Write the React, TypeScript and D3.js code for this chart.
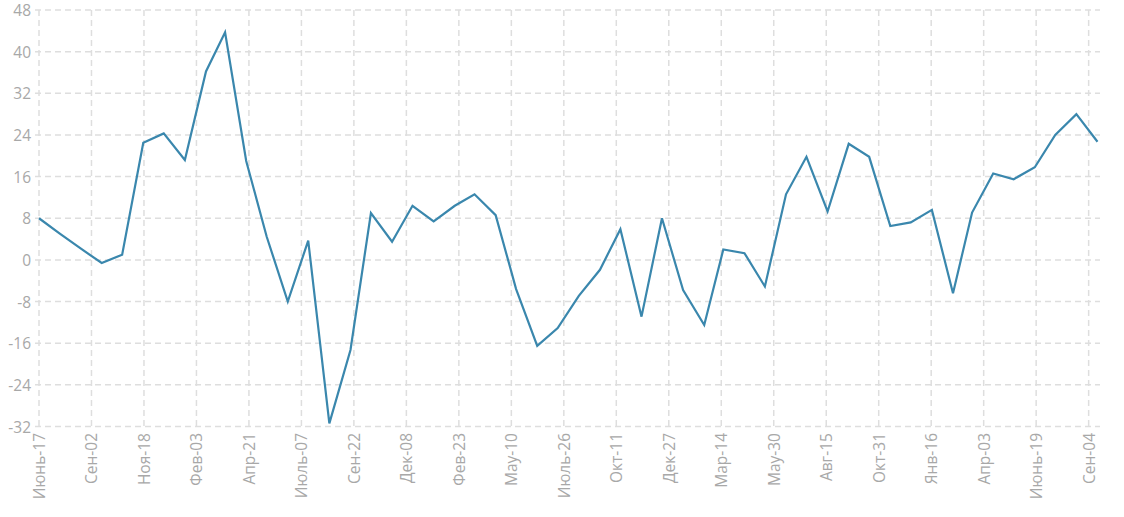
import React from "react";
import * as d3 from "d3";

const START = new Date(2018, 5, 17);
const values: number[] = [
  8.0, 5.1, 2.2, -0.6, 1.0, 22.5, 24.3, 19.2, 36.2, 43.7,
  19.0, 4.5, -8.0, 3.7, -31.4, -17.3, 9.0, 3.5, 10.4, 7.4,
  10.4, 12.6, 8.6, -5.6, -16.5, -13.1, -6.9, -1.9, 5.9, -10.9,
  8.0, -5.8, -12.5, 2.0, 1.3, -5.1, 12.6, 19.8, 9.3, 22.3,
  19.8, 6.5, 7.2, 9.6, -6.4, 9.1, 16.6, 15.5, 17.8, 24.0,
  28.0, 22.7,
];
const dates: Date[] = values.map((_, i) => d3.timeMonth.offset(START, i));
const yTicks: number[] = [48, 40, 32, 24, 16, 8, 0, -8, -16, -24, -32];
const monthNames: string[] = ["Янв", "Фев", "Мар", "Апр", "Мау", "Июнь", "Июль", "Авг", "Сен", "Окт", "Ноя", "Дек"];
const tickStepDays = 77;

const W = 1124;
const H = 517;
const FONT = "'Open Sans', sans-serif";

export default function App() {
  const x = d3.scaleTime().domain([dates[0], dates[dates.length - 1]]).range([39, 1097.5]);
  const y = d3.scaleLinear().domain([-32, 48]).range([426.5, 10]);
  const xTicks = d3
    .range(0, 30)
    .map((k) => d3.timeDay.offset(START, k * tickStepDays))
    .filter((d) => d <= dates[dates.length - 1]);
  const fmt = (d: Date) => `${monthNames[d.getMonth()]}-${String(d.getDate()).padStart(2, "0")}`;
  const line = d3
    .line<number>()
    .x((_, i) => x(dates[i]))
    .y((v) => y(v));
  const gridColor = "#dedede";
  return (
    <svg width={W} height={H} style={{ position: "absolute", left: 0, top: 0, background: "#fff" }}>
      <g>
        {yTicks.map((t) => (
          <line key={"h" + t} x1={35} x2={1100} y1={y(t)} y2={y(t)} stroke={gridColor} strokeWidth={1.5} strokeDasharray="6,4" />
        ))}
        {xTicks.map((d, i) => (
          <line key={"v" + i} x1={x(d)} x2={x(d)} y1={10} y2={430} stroke={gridColor} strokeWidth={1.5} strokeDasharray="6,4" />
        ))}
      </g>
      <g fontFamily={FONT} fontSize={15.5} fill="#a8a8a8">
        {yTicks.map((t) => (
          <text key={"yl" + t} x={31} y={y(t)} textAnchor="end" dominantBaseline="central">
            {t}
          </text>
        ))}
        {xTicks.map((d, i) => (
          <text
            key={"xl" + i}
            transform={`translate(${x(d)},${433}) rotate(-90)`}
            textAnchor="end"
            dominantBaseline="central"
          >
            {fmt(d)}
          </text>
        ))}
      </g>
      <path d={line(values) || ""} fill="none" stroke="#3a87ad" strokeWidth={2.2} strokeLinejoin="miter" />
    </svg>
  );
}
